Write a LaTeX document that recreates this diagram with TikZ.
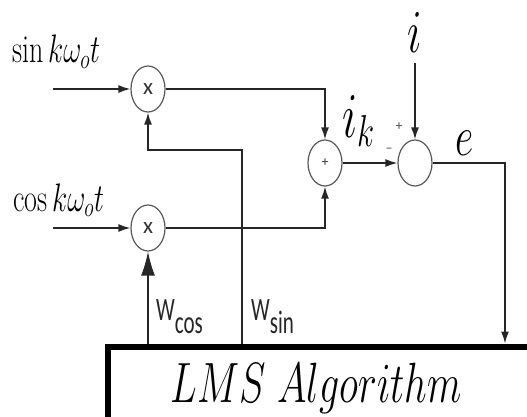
\RequirePackage{fix-cm}
\documentclass[tikz,border=0pt]{standalone}
\usepackage{fontspec}
\newfontfamily\labelfont{Carlito}
\usepackage{tikz}
\usetikzlibrary{shapes,arrows.meta,positioning,calc}

\begin{document}
\begin{tikzpicture}[
    x=1pt, y=-1pt,
    junction/.style={ellipse, draw=black!65, line width=1.2pt, minimum width=34pt, minimum height=46pt, inner sep=0pt, text=black!80, font=\labelfont\fontsize{23}{23}\selectfont},
    sign/.style={inner sep=0pt, text=black!70, font=\labelfont\fontsize{14}{14}\selectfont},
    signal/.style={draw=black!85, line width=1.5pt, -{Latex[length=12pt,width=8pt]}},
    weight/.style={draw=black!85, line width=1.5pt, -{Latex[length=24pt,width=14pt]}},
    mathlabel/.style={inner sep=0pt, yscale=1.42},
    wlabel/.style={inner sep=0pt, yscale=1.55, text=black!85, font=\labelfont\fontsize{21}{21}\selectfont},
    lmsbox/.style={rectangle, draw=black, line width=6pt, inner sep=0pt, minimum width=425pt, minimum height=78pt}
]
    \useasboundingbox (0,0) rectangle (527,417);
    \clip (0,0) rectangle (527,417);

    % Inputs
    \node[mathlabel, anchor=base west, font=\fontsize{28}{30}\selectfont] (sinlabel) at (12,63) {$\sin k\omega_o t$};
    \node[mathlabel, anchor=base west, font=\fontsize{28}{30}\selectfont] (coslabel) at (13,211) {$\cos k\omega_o t$};
    \coordinate (sinin) at (53,89);
    \coordinate (cosin) at (53,228);

    % Multipliers and summers
    \node[junction] (mulsin) at (148,89) {x};
    \node[junction] (mulcos) at (148,228) {x};
    \node[junction, font=\labelfont\fontsize{14}{14}\selectfont] (sumk) at (325,163) {+};
    \node[junction] (err) at (415,163) {};
    \node[sign] (plus) at (399,127) {+};
    \node[sign] (minus) at (389,150) {\textendash};

    % Reference and error
    \node[mathlabel, anchor=base, font=\fontsize{43}{45}\selectfont] (ilabel) at (415,53) {$i$};
    \coordinate (iin) at (415,63);
    \node[mathlabel, anchor=base west, font=\fontsize{45}{47}\selectfont] (iklabel) at (342,137) {$i_k$};
    \node[mathlabel, anchor=base west, font=\fontsize{40}{42}\selectfont] (elabel) at (455,155) {$e$};
    \coordinate (errbend) at (505,163);

    % LMS block
    \node[lmsbox, anchor=north west] (lms) at (104.5,343.5) {};
    \node[mathlabel, font=\fontsize{40}{42}\selectfont] (lmstext) at (316,388) {$LMS\ Algorithm$};
    \coordinate (wsinbend) at (242,150);

    % Weight labels
    \node[wlabel, anchor=base west] (wcos) at (156,320) {W\raisebox{-9pt}{cos}};
    \node[wlabel, anchor=base west] (wsin) at (251,320) {W\raisebox{-9pt}{sin}};

    % Connections
    \path [signal] (sinin) -- (mulsin);
    \path [signal] (cosin) -- (mulcos);
    \draw [signal] (mulsin) -| (sumk);
    \draw [signal] (mulcos) -| (sumk);
    \path [signal] (sumk) -- (err);
    \path [signal] (iin) -- (err);
    \draw [signal] (err) -- (errbend) -- (errbend |- lms.north);

    \draw [weight] (lms.north -| mulcos) -- (mulcos);
    \draw [signal] (lms.north -| wsinbend) -- (wsinbend) -| (mulsin);

\end{tikzpicture}
\end{document}
